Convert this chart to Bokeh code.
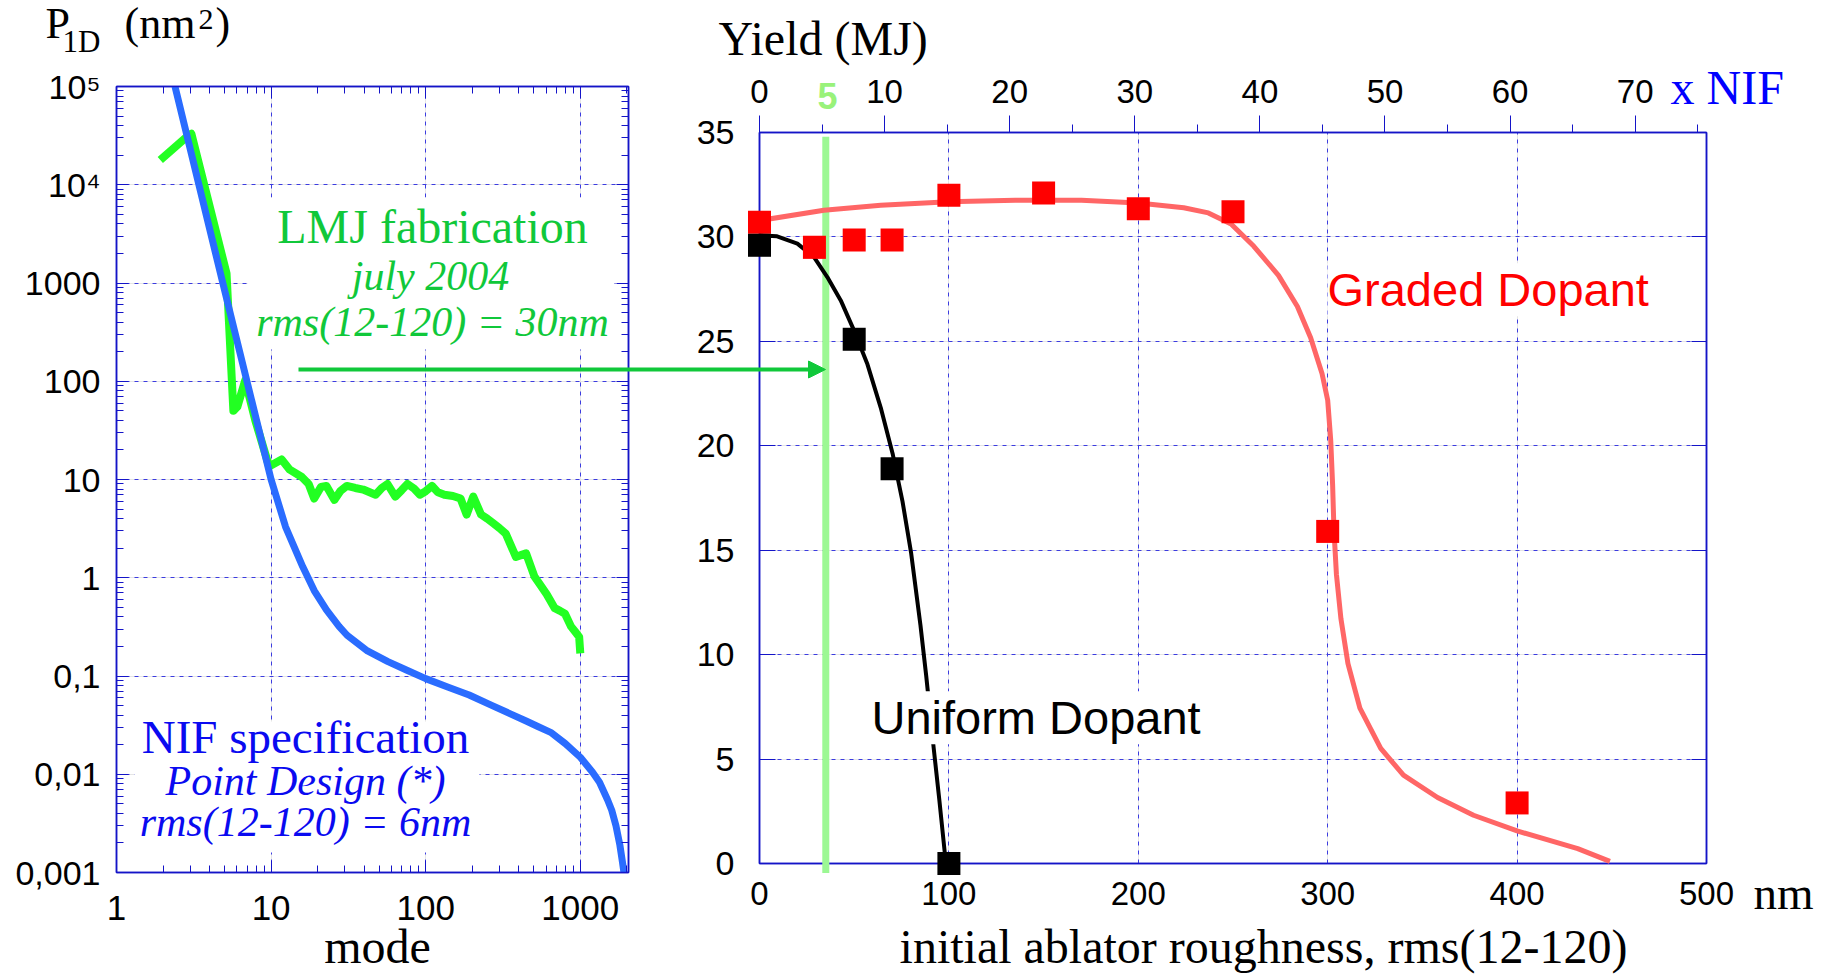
import math
from bokeh.plotting import figure
from bokeh.models import (Range1d, LogAxis, LinearAxis, FixedTicker, CustomJSTickFormatter,
                          Label, Arrow, NormalHead, BoxAnnotation, Grid, GridBox)
from bokeh.embed import file_html
from bokeh.resources import INLINE

# ---------------- data: left panel (P1D spectrum vs mode) ----------------
nif_mode = [2.39, 4.87, 10, 12.4, 16, 19, 22.8, 27.5, 31, 42, 57, 75, 100, 140, 191, 263, 350,
            450, 527, 643, 800, 1000, 1200, 1331, 1500, 1597, 1700, 1803, 1870, 1915]
nif_p1d = [1e5, 1000, 10, 3.3, 1.3, 0.74, 0.47, 0.32, 0.26, 0.18, 0.14, 0.115, 0.094, 0.077,
           0.064, 0.0508, 0.0414, 0.0346, 0.0308, 0.0267, 0.0205, 0.0149, 0.0105, 0.0083,
           0.0055, 0.0043, 0.003, 0.0019, 0.0013, 0.001]

lmj_mode = [1.92, 2.9, 3.05, 5.15, 5.7, 6.05, 6.8, 7.9, 9.7, 11.7, 13.2, 15.8, 17.5, 19, 21,
            22.8, 25.7, 28, 30.9, 35, 39.4, 47.4, 52, 56.6, 63.6, 70, 76.2, 84, 91.7, 100, 110,
            120, 132, 150, 168, 184, 203, 228, 250, 273, 300, 330, 383, 446, 505, 550, 606,
            683, 740, 796, 870, 930, 983, 1000]
lmj_p1d = [17900, 31600, 33000, 1250, 50, 55, 102, 40, 13.6, 16, 12.6, 10.6, 9, 6.4, 8.4,
           8.6, 6.2, 7.6, 8.6, 8.2, 7.9, 7.0, 8.2, 9.0, 6.7, 7.8, 9.0, 8.1, 7.0, 7.6, 8.6,
           7.4, 7.0, 6.8, 6.4, 4.4, 6.7, 4.4, 4.0, 3.6, 3.2, 2.8, 1.63, 1.77, 1.03, 0.85, 0.68,
           0.49, 0.46, 0.43, 0.32, 0.28, 0.25, 0.17]

left_y_ticks = [0.001, 0.01, 0.1, 1, 10, 100, 1000, 10000, 100000]
left_y_labels = ["0,001", "0,01", "0,1", "1", "10", "100", "1000", "10\u2074", "10\u2075"]
left_x_ticks = [1, 10, 100, 1000]
left_x_labels = ["1", "10", "100", "1000"]

# ---------------- data: right panel (yield vs roughness) ----------------
graded_nm = [0, 29, 50, 70, 100, 150, 200, 250, 300, 400]
graded_yield = [30.7, 29.5, 29.85, 29.85, 32.0, 32.1, 31.35, 31.2, 15.9, 2.9]
uniform_nm = [0, 50, 70, 100]
uniform_yield = [29.6, 25.1, 18.9, 0]

red_fit_nm = [1, 34, 64, 100, 135, 170, 200, 224, 237, 249, 261, 274, 284, 291, 297, 300,
              301.6, 302.6, 303.3, 304.6, 307, 310.7, 317, 328, 340, 358, 377, 400, 432, 449]
red_fit_y = [30.8, 31.28, 31.52, 31.68, 31.76, 31.76, 31.62, 31.4, 31.15, 30.62, 29.55, 28.16,
             26.67, 25.17, 23.46, 22.18, 20.26, 18.12, 15.98, 13.85, 11.71, 9.57, 7.44, 5.51,
             4.23, 3.16, 2.31, 1.56, 0.71, 0.1]
black_fit_nm = [0, 9.3, 20, 28.7, 35.8, 42.9, 50, 57, 64, 70.4, 75.5, 80, 85, 88, 92, 95, 97.9, 100]
black_fit_y = [30.08, 30.03, 29.68, 29.04, 28.08, 26.96, 25.5, 23.9, 21.83, 19.58, 17.34, 14.9,
               11.4, 9.0, 5.5, 3.0, 0.45, 0.0]

lmj_line_nm = 35
lmj_line_top = 34.8
lmj_line_bottom = -0.45
bottom_ticks = [0, 100, 200, 300, 400, 500]
yield_ticks = [0, 5, 10, 15, 20, 25, 30, 35]
nif_ticks = [0, 10, 20, 30, 40, 50, 60, 70]
nif_minor = [5, 15, 25, 35, 45, 55, 65, 75]
NIF_MAX = 75.7

# ---------------- styles ----------------
FRAME = "#1414c8"
GRID = "#3c3ce0"
SANS = "Liberation Sans"
SERIF = "Liberation Serif"
LMJ_TXT = "#10c83a"
NIF_TXT = "#0a0af0"
BASE_FIX = 0.42   # baseline correction (fraction of font size)

# ---------------- geometry (page pixels, canvas origin at page 0,0) ----------------
LW, RW, H = 680, 1150, 975
LX0, LX1, LY0, LY1 = 116, 628, 86, 872
RX0, RX1, RY0, RY1 = 759, 1706, 132, 863
XMAX = 2050


def lx(px):
    return 10 ** ((px - LX0) / (LX1 - LX0) * math.log10(XMAX))


def ly(py):
    return 10 ** (5 - (py - LY0) / (LY1 - LY0) * 8)


def rx(px):
    return (px - RX0) / (RX1 - RX0) * 500


def ry(py):
    return (RY1 - py) / (RY1 - RY0) * 35


def no_align(fig):
    if "frame_align" in fig.properties():
        fig.frame_align = False


def style_axis(ax, tin, tout, mtin, mtout, size, standoff):
    ax.axis_line_color = FRAME
    ax.axis_line_width = 1.5
    ax.major_tick_line_color = FRAME
    ax.minor_tick_line_color = FRAME
    ax.major_tick_in = tin
    ax.major_tick_out = tout
    ax.minor_tick_in = mtin
    ax.minor_tick_out = mtout
    ax.major_label_text_font = SANS
    ax.major_label_text_font_size = size
    ax.major_label_text_color = "black"
    ax.major_label_standoff = standoff


def lab(fig, fx, fy, px, py, text, font, size, color, align="left", style="normal", **kw):
    fs = int(size.replace("px", ""))
    fig.add_layout(Label(x=fx(px), y=fy(py - BASE_FIX * fs), text=text, text_font=font,
                         text_font_size=size, text_color=color, text_align=align,
                         text_baseline="alphabetic", text_font_style=style, **kw))


# ================= left figure =================
p1 = figure(width=LW, height=H, x_axis_type="log", y_axis_type="log",
            x_axis_location=None, y_axis_location=None,
            x_range=Range1d(1, XMAX), y_range=Range1d(1e-3, 1e5),
            output_backend="svg", toolbar_location=None,
            min_border_left=LX0, min_border_right=LW - LX1,
            min_border_top=LY0, min_border_bottom=H - LY1)
no_align(p1)
p1.outline_line_color = FRAME
p1.outline_line_width = 1.5

ymin = [m * 10 ** e for e in range(-3, 5) for m in range(2, 10)]
xmin = [m * 10 ** e for e in range(0, 4) for m in range(2, 10) if m * 10 ** e <= XMAX]
yfmt = CustomJSTickFormatter(args=dict(labels=left_y_labels),
                             code="return labels[Math.round(Math.log10(tick)) + 3];")
xfmt = CustomJSTickFormatter(args=dict(labels=left_x_labels),
                             code="return labels[Math.round(Math.log10(tick))];")

bot1 = LogAxis(ticker=FixedTicker(ticks=left_x_ticks, minor_ticks=xmin), formatter=xfmt)
left1 = LogAxis(ticker=FixedTicker(ticks=left_y_ticks, minor_ticks=ymin), formatter=yfmt)
top1 = LogAxis(ticker=FixedTicker(ticks=left_x_ticks, minor_ticks=xmin),
               formatter=CustomJSTickFormatter(code="return '';"))
right1 = LogAxis(ticker=FixedTicker(ticks=left_y_ticks, minor_ticks=ymin),
                 formatter=CustomJSTickFormatter(code="return '';"))
style_axis(bot1, 12, 0, 7, 0, "35px", 23)
style_axis(left1, 12, 0, 7, 0, "34px", 16)
style_axis(top1, 12, 0, 7, 0, "2px", 0)
style_axis(right1, 12, 0, 7, 0, "2px", 0)
p1.add_layout(bot1, "below")
p1.add_layout(left1, "left")
p1.add_layout(top1, "above")
p1.add_layout(right1, "right")

for dim, ticks in [(0, left_x_ticks), (1, left_y_ticks)]:
    p1.add_layout(Grid(dimension=dim, ticker=FixedTicker(ticks=ticks), grid_line_color=GRID,
                       grid_line_dash="4 5", grid_line_width=1))

p1.line(lmj_mode, lmj_p1d, line_color="#22ff22", line_width=8, line_join="round")
p1.line(nif_mode, nif_p1d, line_color="#2a6cff", line_width=7, line_join="round")

p1.add_layout(BoxAnnotation(left=lx(247), right=lx(614), top=ly(197), bottom=ly(349),
                            fill_color="white", fill_alpha=1, line_color=None, line_alpha=0))
p1.add_layout(BoxAnnotation(left=lx(134), right=lx(479), top=ly(721), bottom=ly(852),
                            fill_color="white", fill_alpha=1, line_color=None, line_alpha=0))

lab(p1, lx, ly, 432, 246, "LMJ fabrication", SERIF, "48px", LMJ_TXT, "center")
lab(p1, lx, ly, 430, 293, "july 2004", SERIF, "42px", LMJ_TXT, "center", "italic")
lab(p1, lx, ly, 432, 339, "rms(12-120) = 30nm", SERIF, "42px", LMJ_TXT, "center", "italic")
lab(p1, lx, ly, 305, 756, "NIF specification", SERIF, "47px", NIF_TXT, "center")
lab(p1, lx, ly, 305, 798, "Point Design (*)", SERIF, "42px", NIF_TXT, "center", "italic")
lab(p1, lx, ly, 305, 839, "rms(12-120) = 6nm", SERIF, "42px", NIF_TXT, "center", "italic")

# ================= right figure (axes + grid) =================
p2 = figure(width=RW, height=H, x_range=Range1d(0, 500), y_range=Range1d(0, 35),
            x_axis_location=None, y_axis_location=None,
            output_backend="svg", toolbar_location=None,
            min_border_left=RX0 - LW, min_border_right=LW + RW - RX1,
            min_border_top=RY0, min_border_bottom=H - RY1)
no_align(p2)
p2.extra_x_ranges = {"nif": Range1d(0, NIF_MAX)}
p2.outline_line_color = FRAME
p2.outline_line_width = 1.5

bot2 = LinearAxis(ticker=FixedTicker(ticks=bottom_ticks))
left2 = LinearAxis(ticker=FixedTicker(ticks=yield_ticks))
top2 = LinearAxis(x_range_name="nif", ticker=FixedTicker(ticks=nif_ticks, minor_ticks=nif_minor))
right2 = LinearAxis(ticker=FixedTicker(ticks=yield_ticks),
                    formatter=CustomJSTickFormatter(code="return '';"))
style_axis(bot2, 0, 0, 0, 0, "33px", 18)
style_axis(left2, 16, 0, 0, 0, "34px", 25)
style_axis(top2, 0, 17, 0, 8, "33px", 13)
style_axis(right2, 15, 0, 0, 0, "2px", 0)
p2.add_layout(bot2, "below")
p2.add_layout(left2, "left")
p2.add_layout(top2, "above")
p2.add_layout(right2, "right")

for dim, ticks in [(0, bottom_ticks), (1, yield_ticks)]:
    p2.add_layout(Grid(dimension=dim, ticker=FixedTicker(ticks=ticks), grid_line_color=GRID,
                       grid_line_dash="4 5", grid_line_width=1))

# ===== overlay: same data scales as the right panel, spanning the whole canvas (no clipping) =====
ov = figure(width=LW + RW, height=H, x_range=Range1d(rx(0), rx(LW + RW)),
            y_range=Range1d(ry(H), ry(0)),
            x_axis_location=None, y_axis_location=None, toolbar_location=None,
            output_backend="svg", min_border=0, min_border_left=0, min_border_right=0,
            min_border_top=0, min_border_bottom=0)
no_align(ov)
ov.outline_line_color = None
ov.background_fill_alpha = 0
ov.border_fill_alpha = 0
ov.grid.visible = False

ov.segment(x0=[lmj_line_nm], y0=[lmj_line_top], x1=[lmj_line_nm], y1=[lmj_line_bottom],
           line_color="#9cf894", line_width=7)
ov.line(red_fit_nm, red_fit_y, line_color="#ff6666", line_width=5)
ov.line(black_fit_nm, black_fit_y, line_color="black", line_width=4)
ov.scatter(graded_nm, graded_yield, marker="square", size=23, fill_color="#ff0000",
           line_color="#ff0000", line_width=0)
ov.scatter(uniform_nm, uniform_yield, marker="square", size=23, fill_color="black",
           line_color="black", line_width=0)

lab(ov, rx, ry, 1327, 309, "Graded Dopant", SANS, "47px", "#ff0000",
    background_fill_color="white", background_fill_alpha=1)
lab(ov, rx, ry, 871, 737, "Uniform Dopant", SANS, "47px", "black",
    background_fill_color="white", background_fill_alpha=1)

lab(ov, rx, ry, 45, 41, "P", SERIF, "44px", "black")
lab(ov, rx, ry, 62, 54, "1D", SERIF, "31px", "black")
lab(ov, rx, ry, 124, 41, "(nm", SERIF, "44px", "black")
lab(ov, rx, ry, 198, 32, "2", SERIF, "30px", "black")
lab(ov, rx, ry, 215, 41, ")", SERIF, "44px", "black")
lab(ov, rx, ry, 377, 966, "mode", SERIF, "48px", "black", "center")
lab(ov, rx, ry, 718, 58, "Yield (MJ)", SERIF, "48px", "black")
lab(ov, rx, ry, 1670, 107, "x NIF", SERIF, "48px", "#0000ff")
lab(ov, rx, ry, 827, 111, "5", SANS, "36px", "#99f27a", "center", "bold")
lab(ov, rx, ry, 1753, 912, "nm", SERIF, "47px", "black")
lab(ov, rx, ry, 1263, 966, "initial ablator roughness, rms(12-120)", SERIF, "48px", "black",
    "center")
ov.add_layout(Arrow(end=NormalHead(size=17, fill_color=LMJ_TXT, line_color=LMJ_TXT),
                    x_start=rx(298), y_start=ry(369), x_end=rx(825), y_end=ry(369),
                    line_color=LMJ_TXT, line_width=4))

layout = GridBox(children=[(p1, 0, 0), (p2, 0, 1), (ov, 0, 0, 1, 2)], spacing=0)
open("out.html", "w").write(file_html(layout, INLINE))
